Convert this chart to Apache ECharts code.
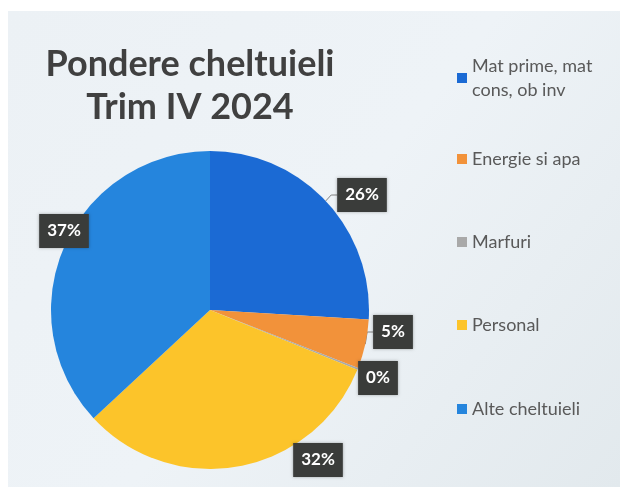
<!DOCTYPE html>
<html>
<head>
<meta charset="utf-8">
<script src="https://cdn.jsdelivr.net/npm/echarts@6/dist/echarts.min.js"></script>
<style>html,body{margin:0;padding:0;background:#fff}#c{width:620px;height:487px}</style>
</head>
<body>
<div id="c"></div>
<script>
const categories = ['Mat prime, mat\ncons, ob inv', 'Energie si apa', 'Marfuri', 'Personal', 'Alte cheltuieli'];
const values = [26, 5, 0.2, 32, 37];
const titleLines = ['Pondere cheltuieli', 'Trim IV 2024'];

const colors = ['#1b6ad4', '#f2923a', '#a9a9a9', '#fcc42a', '#2585dd'];
const labelPos = [[362, 195], [393, 332], [378, 378], [318, 460], [64, 231]];
const legendY = [78, 159, 242, 325, 409];
const LH = 24;

const chart = echarts.init(document.getElementById('c'));

const legends = categories.map((name, i) => ({
  orient: 'vertical',
  left: 457,
  top: i === 0 ? legendY[i] - LH * 1.5 : legendY[i] - LH / 2,
  padding: 0,
  selectedMode: false,
  icon: 'rect',
  itemWidth: 10,
  itemHeight: 10,
  data: [name],
  textStyle: {
    color: '#595959',
    fontFamily: 'Lato',
    fontSize: 18,
    lineHeight: LH,
    padding: i === 0 ? [LH, 0, 0, 0] : 0
  }
}));

chart.setOption({
  backgroundColor: '#ffffff',
  animation: false,
  color: colors,
  title: {
    text: titleLines.join('\n'),
    left: 185,
    textAlign: 'center',
    top: 38,
    textStyle: {
      fontFamily: 'Lato',
      fontWeight: 'bold',
      fontSize: 36,
      lineHeight: 43,
      color: '#404040'
    }
  },
  graphic: [{
    type: 'rect',
    z: 0,
    silent: true,
    shape: { x: 8, y: 11, width: 612, height: 476 },
    style: {
      fill: new echarts.graphic.LinearGradient(0, 0, 1, 1, [
        { offset: 0, color: '#ecf1f5' },
        { offset: 0.5, color: '#eef3f7' },
        { offset: 1, color: '#e2e9ed' }
      ])
    }
  }],
  legend: legends,
  series: [{
    type: 'pie',
    center: [210, 310],
    radius: 159,
    startAngle: 90,
    clockwise: true,
    percentPrecision: 0,
    avoidLabelOverlap: false,
    data: categories.map((name, i) => ({
      name: name,
      value: values[i],
      labelLine: { show: i < 2 }
    })),
    label: {
      show: true,
      formatter: '{d}%',
      color: '#ffffff',
      fontFamily: 'Lato',
      fontWeight: 'bold',
      fontSize: 17,
      backgroundColor: '#3a3c3a',
      padding: [9, 8, 8, 8],
      shadowColor: 'rgba(0,0,0,0.3)',
      shadowBlur: 3
    },
    labelLine: {
      length: 8,
      length2: 6,
      lineStyle: { color: '#808080', width: 1 }
    },
    labelLayout: function (p) {
      const pos = labelPos[p.dataIndex];
      return { x: pos[0], y: pos[1], align: 'center', verticalAlign: 'middle' };
    },
    itemStyle: { borderWidth: 0 },
    emphasis: { disabled: true }
  }]
});
</script>
</body>
</html>
